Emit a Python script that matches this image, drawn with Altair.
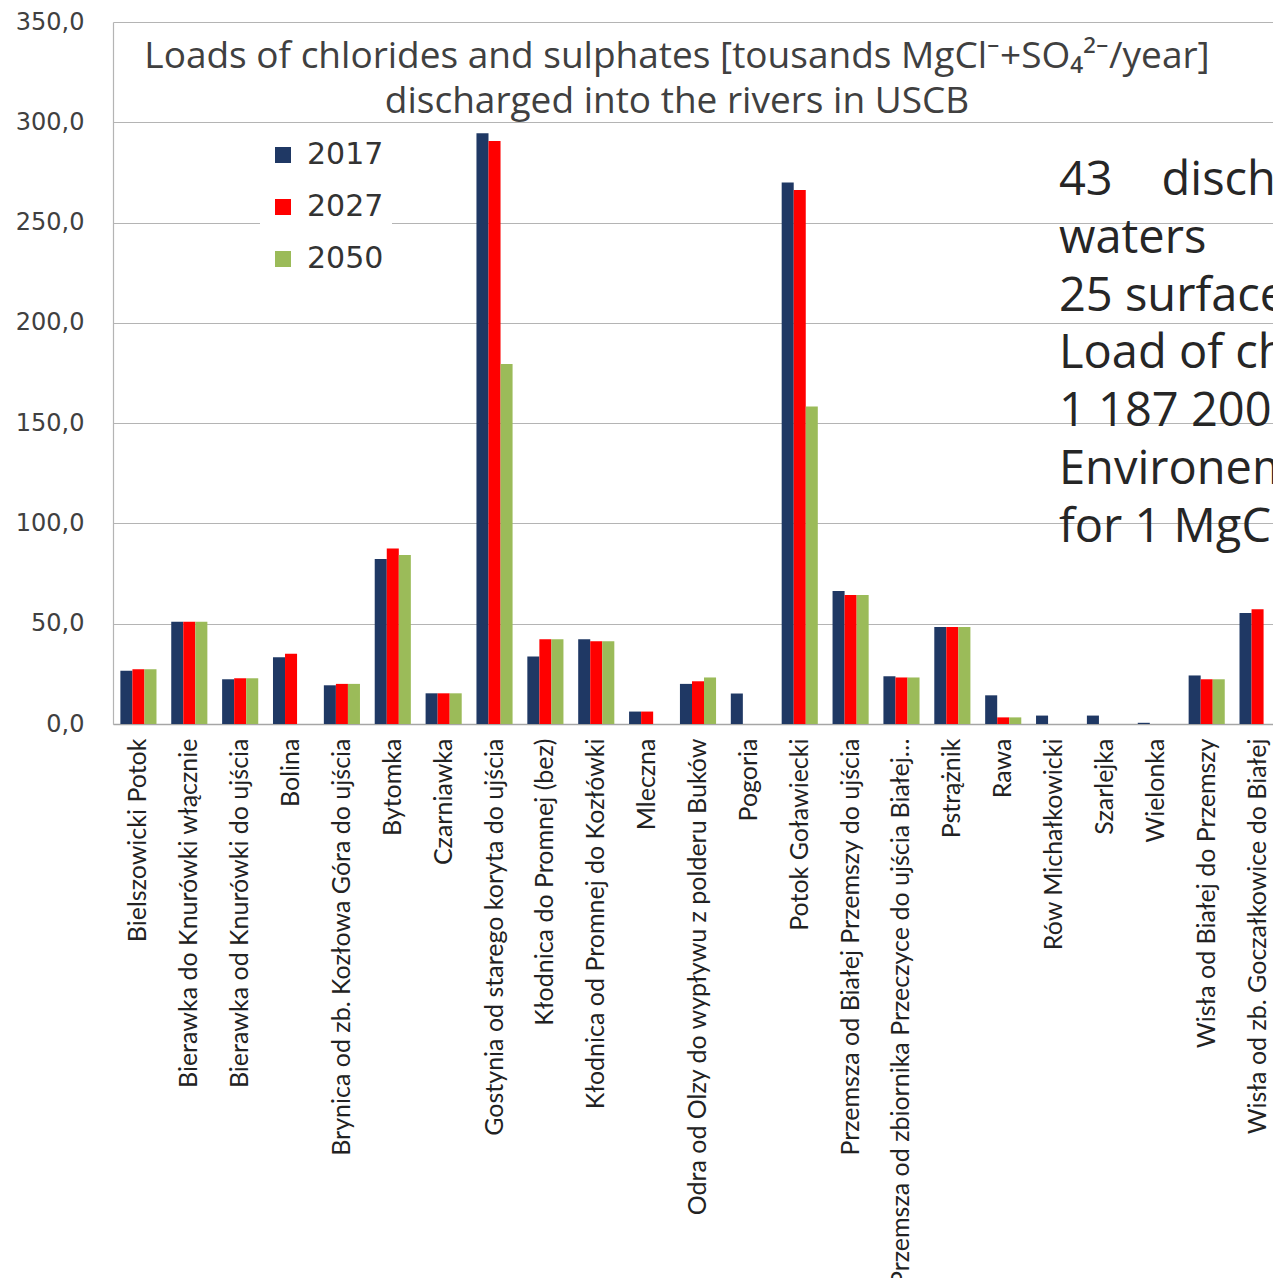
import altair as alt
import pandas as pd

categories = [
    "Bielszowicki Potok",
    "Bierawka do Knurówki włącznie",
    "Bierawka od Knurówki do ujścia",
    "Bolina",
    "Brynica od zb. Kozłowa Góra do ujścia",
    "Bytomka",
    "Czarniawka",
    "Gostynia od starego koryta do ujścia",
    "Kłodnica do Promnej (bez)",
    "Kłodnica od Promnej do Kozłówki",
    "Mleczna",
    "Odra od Olzy do wypływu z polderu Buków",
    "Pogoria",
    "Potok Goławiecki",
    "Przemsza od Białej Przemszy do ujścia",
    "Przemsza od zbiornika Przeczyce do ujścia Białej…",
    "Pstrążnik",
    "Rawa",
    "Rów Michałkowicki",
    "Szarlejka",
    "Wielonka",
    "Wisła od Białej do Przemszy",
    "Wisła od zb. Goczałkowice do Białej",
]

v2017 = [26.5, 51.0, 22.3, 33.3, 19.3, 82.3, 15.3, 294.5, 33.6, 42.2, 6.2, 20.0,
         15.2, 270.0, 66.3, 23.8, 48.3, 14.3, 4.2, 4.2, 0.6, 24.2, 55.3]
v2027 = [27.3, 51.0, 22.8, 35.0, 20.0, 87.5, 15.3, 290.7, 42.3, 41.2, 6.2, 21.3,
         None, 266.2, 64.3, 23.2, 48.3, 3.3, None, None, None, 22.3, 57.2]
v2050 = [27.3, 51.0, 22.8, None, 20.0, 84.2, 15.3, 179.5, 42.3, 41.2, None, 23.2,
         None, 158.3, 64.3, 23.2, 48.3, 3.3, None, None, None, 22.3, None]

years = ["2017", "2027", "2050"]
colors = ["#1f3864", "#ff0000", "#9bbb59"]
y_ticks = [0, 50, 100, 150, 200, 250, 300, 350]

title_text = "Loads of chlorides and sulphates [tousands MgCl⁻+SO₄²⁻/year]\ndischarged into the rivers in USCB"
side_text = ("43\u00a0\u00a0\u00a0 discharges of mine\nwaters\n25 surface water bodies\n"
             "Load of chlorides and sulphates\n1 187 200 Mg/year\n"
             "Environemental fee\nfor 1 MgCl⁻+SO₄²⁻")

rows = []
for i, c in enumerate(categories):
    for yr, vals in zip(years, [v2017, v2027, v2050]):
        if vals[i] is not None:
            rows.append({"river": c, "year": yr, "value": vals[i]})
df = pd.DataFrame(rows)

bars = alt.Chart(df).mark_bar().encode(
    x=alt.X(
        "river:N",
        sort=categories,
        scale=alt.Scale(domain=categories, range=[0, 1170], paddingInner=0.29, paddingOuter=0.145),
        axis=alt.Axis(
            title=None, labelAngle=-90, ticks=False, grid=False,
            labelFont="Lato", labelFontSize=25, labelColor="#222222",
            labelLimit=700, labelPadding=14, labelAlign="right", labelBaseline="middle",
            domainColor="#a6a6a6", domainWidth=1.5,
        ),
    ),
    xOffset=alt.XOffset("year:N", sort=years,
                        scale=alt.Scale(domain=years, paddingInner=0, paddingOuter=0)),
    y=alt.Y(
        "value:Q",
        scale=alt.Scale(domain=[0, 350], nice=False),
        axis=alt.Axis(
            title=None, values=y_ticks, ticks=False,
            labelExpr="replace(format(datum.value, '.1f'), '.', ',')",
            labelFont="DejaVu Sans", labelFontSize=24, labelColor="#404040", labelPadding=29,
            gridColor="#b4b4b4", gridWidth=1.2, domainColor="#b4b4b4", domainWidth=1.2,
        ),
    ),
    color=alt.Color(
        "year:N",
        scale=alt.Scale(domain=years, range=colors),
        legend=alt.Legend(
            title=None, orient="none", legendX=147, legendY=110, fillColor="white",
            padding=8, symbolType="square", symbolSize=256, symbolStrokeWidth=0,
            labelFont="DejaVu Sans", labelFontSize=30, labelColor="#333333",
            rowPadding=22, labelOffset=9,
        ),
    ),
)

title = alt.Chart(pd.DataFrame({"t": [title_text]})).mark_text(
    align="center", baseline="alphabetic", lineBreak="\n", lineHeight=45,
    font="Open Sans", fontSize=37, color="#404040",
).encode(x=alt.value(564), y=alt.value(46), text="t:N")

side = alt.Chart(pd.DataFrame({"t": [side_text]})).mark_text(
    align="left", baseline="alphabetic", lineBreak="\n", lineHeight=57.8,
    font="Open Sans", fontSize=47, color="#262626",
).encode(x=alt.value(946), y=alt.value(173), text="t:N")

chart = alt.layer(bars, title, side).properties(
    width=1160, height=702,
    autosize=alt.AutoSizeParams(type="none"),
    padding={"left": 113, "top": 22, "right": 0, "bottom": 554},
    background="white",
).configure_view(stroke=None)

chart.save("out.html", embed_options={"renderer": "svg", "actions": False})
